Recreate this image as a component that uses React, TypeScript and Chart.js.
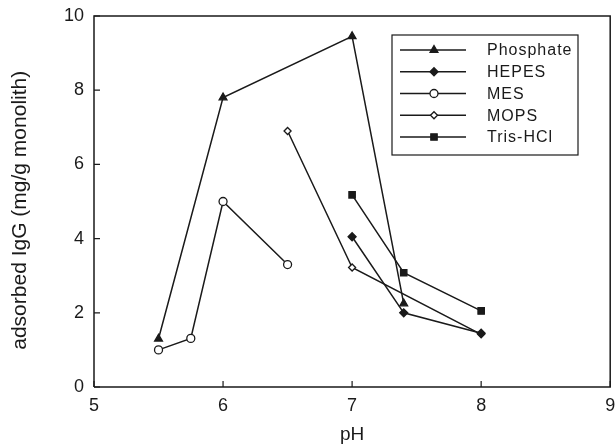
import React, { useEffect, useRef } from "react";
import { Chart, registerables } from "chart.js";
import { drawPoint } from "chart.js/helpers";

Chart.register(...registerables);

const phosphateX = [5.5, 6.0, 7.0, 7.4];
const phosphateY = [1.3, 7.8, 9.45, 2.25];
const hepesX = [7.0, 7.4, 8.0];
const hepesY = [4.05, 2.0, 1.45];
const mesX = [5.5, 5.75, 6.0, 6.5];
const mesY = [1.0, 1.31, 5.0, 3.3];
const mopsX = [6.5, 7.0, 8.0];
const mopsY = [6.9, 3.22, 1.42];
const trisX = [7.0, 7.4, 8.0];
const trisY = [5.18, 3.08, 2.05];

const seriesNames = ["Phosphate", "HEPES", "MES", "MOPS", "Tris-HCl"];
const xTicks = [5, 6, 7, 8, 9];
const yTicks = [0, 2, 4, 6, 8, 10];

const FONT = "'Liberation Sans', Arial, Helvetica, sans-serif";
const INK = "#1a1a1a";

const zip = (xs: number[], ys: number[]) => xs.map((x, i) => ({ x, y: ys[i] }));

const styles = [
  { pointStyle: "triangle", fill: INK, radius: 4.5 },
  { pointStyle: "rectRot", fill: INK, radius: 4 },
  { pointStyle: "circle", fill: "#ffffff", radius: 4 },
  { pointStyle: "rectRot", fill: "#ffffff", radius: 3.5 },
  { pointStyle: "rect", fill: INK, radius: 4.5 },
];

const frameAndLegend = {
  id: "frameAndLegend",
  afterDraw(chart: any) {
    const ctx = chart.ctx;
    const { left, right, top, bottom } = chart.chartArea;
    ctx.save();
    ctx.strokeStyle = INK;
    ctx.lineWidth = 1.5;
    ctx.beginPath();
    ctx.moveTo(left, bottom);
    ctx.lineTo(left, top);
    ctx.lineTo(right, top);
    ctx.lineTo(right, bottom);
    ctx.lineTo(left, bottom);
    ctx.stroke();
    const xs = chart.scales.x;
    const ys = chart.scales.y;
    ctx.lineWidth = 1.2;
    ctx.beginPath();
    xTicks.forEach((t) => {
      const px = xs.getPixelForValue(t);
      ctx.moveTo(px, bottom);
      ctx.lineTo(px, bottom - 6);
    });
    yTicks.forEach((t) => {
      const py = ys.getPixelForValue(t);
      ctx.moveTo(left, py);
      ctx.lineTo(left + 6, py);
    });
    ctx.stroke();

    const bx = 392, by = 35, bw = 186, bh = 120;
    ctx.lineWidth = 1.2;
    ctx.strokeRect(bx, by, bw, bh);
    chart.data.datasets.forEach((ds: any, i: number) => {
      const y = 50 + i * 21.75;
      ctx.strokeStyle = INK;
      ctx.lineWidth = 1.3;
      ctx.beginPath();
      ctx.moveTo(400, y);
      ctx.lineTo(466, y);
      ctx.stroke();
      ctx.fillStyle = ds.pointBackgroundColor;
      ctx.strokeStyle = INK;
      ctx.lineWidth = 1.3;
      drawPoint(
        ctx,
        { pointStyle: ds.pointStyle, radius: ds.pointRadius, borderWidth: 1.3, rotation: 0 } as any,
        434,
        y
      );
      ctx.fillStyle = INK;
      ctx.font = `16px ${FONT}`;
      (ctx as any).letterSpacing = "1px";
      ctx.textAlign = "left";
      ctx.textBaseline = "middle";
      ctx.fillText(ds.label, 487, y + 1);
      (ctx as any).letterSpacing = "0px";
    });
    ctx.restore();
  },
};

export default function App() {
  const ref = useRef<HTMLCanvasElement>(null);
  useEffect(() => {
    const xsArr = [phosphateX, hepesX, mesX, mopsX, trisX];
    const ysArr = [phosphateY, hepesY, mesY, mopsY, trisY];
    const chart = new Chart(ref.current as HTMLCanvasElement, {
      type: "line",
      data: {
        datasets: seriesNames.map((name, i) => ({
          label: name,
          data: zip(xsArr[i], ysArr[i]),
          borderColor: INK,
          borderWidth: 1.5,
          backgroundColor: styles[i].fill,
          pointBackgroundColor: styles[i].fill,
          pointBorderColor: INK,
          pointBorderWidth: 1.3,
          pointStyle: styles[i].pointStyle as any,
          pointRadius: styles[i].radius,
          tension: 0,
          fill: false,
        })),
      },
      options: {
        animation: false,
        responsive: false,
        layout: { padding: { top: 16, right: 4, left: 0, bottom: 0 } },
        plugins: { legend: { display: false }, tooltip: { enabled: false } },
        scales: {
          x: {
            type: "linear",
            min: 5,
            max: 9,
            afterFit: (s: any) => {
              s.height = 57;
              s.paddingLeft = 0;
              s.paddingRight = 0;
            },
            afterBuildTicks: (s: any) => {
              s.ticks = xTicks.map((v) => ({ value: v }));
            },
            grid: { display: false, drawTicks: false },
            border: { display: false },
            ticks: {
              color: INK,
              font: { family: FONT, size: 18 },
              padding: 8,
            },
            title: {
              display: true,
              text: "pH",
              color: INK,
              font: { family: FONT, size: 19 },
              padding: { top: 4, bottom: -2 },
            },
          },
          y: {
            type: "linear",
            min: 0,
            max: 10,
            afterFit: (s: any) => {
              s.width = 94;
              s.paddingTop = 0;
              s.paddingBottom = 0;
            },
            afterBuildTicks: (s: any) => {
              s.ticks = yTicks.map((v) => ({ value: v }));
            },
            grid: { display: false, drawTicks: false },
            border: { display: false },
            ticks: {
              color: INK,
              font: { family: FONT, size: 18 },
              padding: 10,
            },
            title: {
              display: true,
              text: "adsorbed IgG (mg/g monolith)   ",
              color: INK,
              font: { family: FONT, size: 21 },
              padding: { top: 8, bottom: 4 },
            },
          },
        },
      },
      plugins: [frameAndLegend],
    });
    return () => chart.destroy();
  }, []);
  return (
    <div style={{ position: "fixed", left: 0, top: 0, width: 616, height: 444, background: "#fff" }}>
      <canvas ref={ref} width={616} height={444} style={{ width: 616, height: 444 }} />
    </div>
  );
}
